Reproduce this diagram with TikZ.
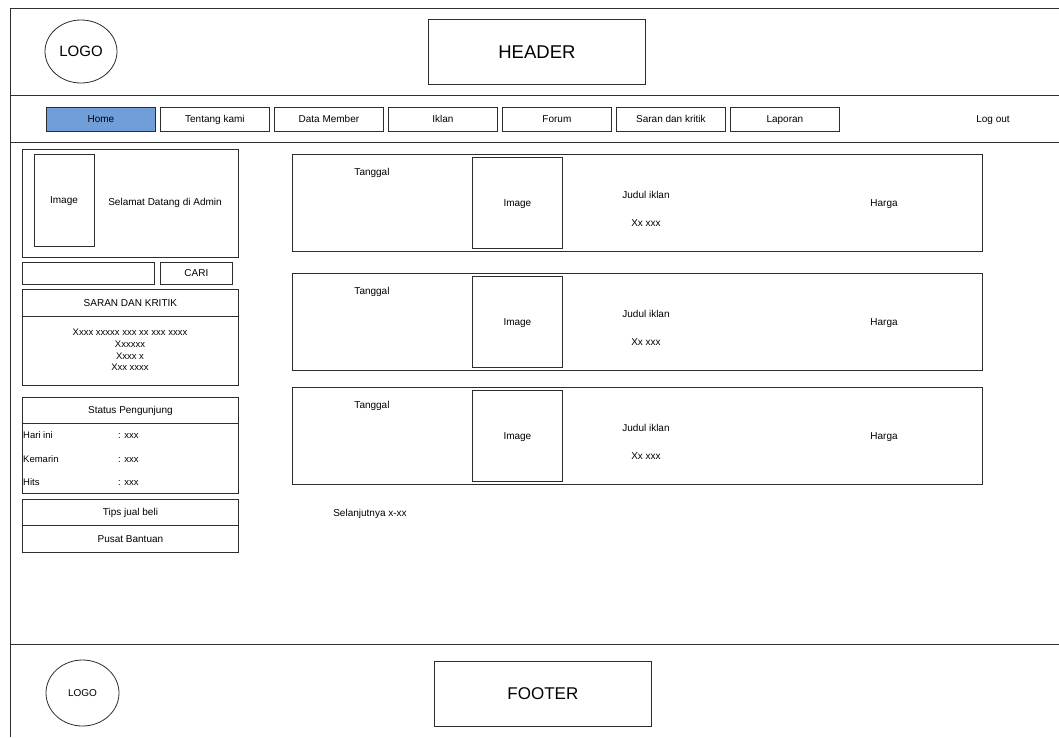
\documentclass[tikz,border=0pt]{standalone}
\usepackage{fontspec}
\setmainfont{Liberation Sans}
\usetikzlibrary{shapes.geometric}
\definecolor{linec}{RGB}{45,45,45}
\definecolor{homeblue}{RGB}{111,158,216}
\begin{document}
\begin{tikzpicture}[x=1pt,y=-1pt,
  every node/.style={font=\fontsize{10}{12}\selectfont, inner sep=0pt, text=black,
    text height=7.2pt, text depth=0.6pt},
  frameline/.style={draw=linec, line width=0.8pt},
  box/.style={draw=linec, line width=0.8pt, rectangle, anchor=north west},
  navbtn/.style={box, minimum width=109pt, minimum height=24pt},
  sidebox/.style={box, minimum width=216pt},
  itembox/.style={box, minimum width=690pt},
  imgbox/.style={box, minimum width=90pt, minimum height=91pt},
  logoshape/.style={draw=linec, line width=0.8pt, ellipse},
  small/.style={font=\fontsize{9.5}{12}\selectfont, text height=6.8pt, text depth=0.6pt},
]
\useasboundingbox (0,0) rectangle (1059,737);
\fill[white] (0,0) rectangle (1059,737);
% outer frame and separators
\draw[frameline] (1059,8) -- (10,8) -- (10,737);
\draw[frameline] (10,95) -- (1059,95);
\draw[frameline] (10,142) -- (1059,142);
\draw[frameline] (10,644) -- (1059,644);
% header
\node[logoshape, minimum width=72pt, minimum height=63pt, font=\fontsize{15}{18}\selectfont, text height=10.8pt, text depth=1pt] (logo) at (81,51.5) {LOGO};
\node[box, minimum width=217pt, minimum height=65pt, font=\fontsize{18.5}{22}\selectfont, text height=13.3pt, text depth=1pt] (header) at (428,19) {HEADER};
% navigation
\node[navbtn, fill=homeblue] (home) at (46,107) {Home};
\node[navbtn] (tentang) at (160,107) {Tentang kami};
\node[navbtn] (member) at (274,107) {Data Member};
\node[navbtn] (iklan) at (388,107) {Iklan};
\node[navbtn] (forum) at (502,107) {Forum};
\node[navbtn] (saran) at (616,107) {Saran dan kritik};
\node[navbtn] (laporan) at (730,107) {Laporan};
\node (logout) at (993,119) {Log out};
% sidebar: welcome
\node[sidebox, minimum height=108pt] (welcome) at (22,149) {};
\node[box, minimum width=60pt, minimum height=92pt] (wimg) at (34,154) {};
\node (wimgtxt) at (64,200) {Image};
\node (wtxt) at (165,202) {Selamat Datang di Admin};
% search
\node[box, minimum width=132pt, minimum height=22pt] (search) at (22,262) {};
\node[box, minimum width=72pt, minimum height=22pt] (cari) at (160,262) {CARI};
% saran dan kritik
\node[sidebox, minimum height=27pt] (skhead) at (22,289) {SARAN DAN KRITIK};
\node[sidebox, minimum height=69pt] (skbody) at (22,316) {};
\node[small] (sk1) at (130,332) {Xxxx xxxxx xxx xx xxx xxxx};
\node[small] (sk2) at (130,344) {Xxxxxx};
\node[small] (sk3) at (130,356) {Xxxx x};
\node[small] (sk4) at (130,367) {Xxx xxxx};
% status pengunjung
\node[sidebox, minimum height=26pt] (sthead) at (22,397) {Status Pengunjung};
\node[sidebox, minimum height=70pt] (stbody) at (22,423) {};
\node[small, anchor=west] (r1a) at (23,435) {Hari ini};
\node[small, anchor=west] (r1b) at (118,435) {: xxx};
\node[small, anchor=west] (r2a) at (23,459) {Kemarin};
\node[small, anchor=west] (r2b) at (118,459) {: xxx};
\node[small, anchor=west] (r3a) at (23,482) {Hits};
\node[small, anchor=west] (r3b) at (118,482) {: xxx};
% tips / bantuan
\node[sidebox, minimum height=26pt] (tips) at (22,499) {Tips jual beli};
\node[sidebox, minimum height=27pt] (bantuan) at (22,525) {Pusat Bantuan};
% items
\foreach \t/\n in {154/a,273/b,387/c}{
  \node[itembox, minimum height=97pt] (item\n) at (292,\t) {};
  \node[imgbox] (img\n) at (472,\t+3) {Image};
  \node (tgl\n) at (372,\t+18) {Tanggal};
  \node (jdl\n) at (646,\t+41) {Judul iklan};
  \node (xx\n) at (646,\t+69) {Xx xxx};
  \node (hrg\n) at (884,\t+49) {Harga};
}
\node (next) at (370,513) {Selanjutnya x-xx};
% footer
\node[logoshape, minimum width=73pt, minimum height=66pt] (flogo) at (82.5,693) {LOGO};
\node[box, minimum width=217pt, minimum height=65pt, font=\fontsize{17}{20}\selectfont, text height=12.2pt, text depth=1pt] (footer) at (434,661) {FOOTER};
\end{tikzpicture}
\end{document}
